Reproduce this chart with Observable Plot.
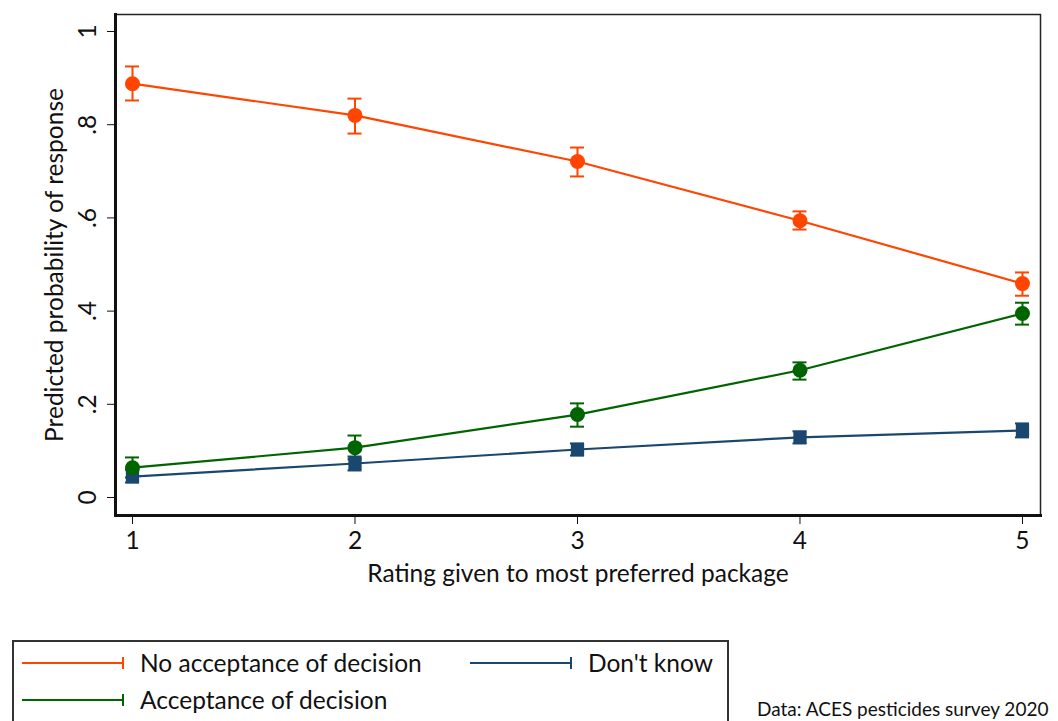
<!DOCTYPE html>
<html>
<head>
<meta charset="utf-8">
<script src="https://cdn.jsdelivr.net/npm/d3@7"></script>
<script src="https://cdn.jsdelivr.net/npm/@observablehq/plot@0.6"></script>
<style>
  html, body { margin: 0; padding: 0; background: #fff; }
  body { width: 1058px; height: 721px; position: relative; overflow: hidden; font-family: Lato, "Open Sans", sans-serif; }
  #legend { position: absolute; left: 12px; top: 640px; width: 717px; height: 90px; border: 2px solid #333; box-sizing: border-box; }
  .item { position: absolute; display: flex; align-items: center; font-size: 24.5px; color: #111; white-space: nowrap; }
  #caption { position: absolute; left: 757px; top: 697px; font-size: 19px; color: #111; white-space: nowrap; }
</style>
</head>
<body>
<div id="chart"></div>
<div id="legend"></div>
<div id="caption">Data: ACES pesticides survey 2020</div>
<script>
// ---- data ----
const ratings = [1, 2, 3, 4, 5];
const seriesNames = ["No acceptance of decision", "Don't know", "Acceptance of decision"];
const seriesColors = ["#ff4500", "#1a476f", "#006400"];
const seriesSymbols = ["circle", "square", "circle"];

const noAcceptP  = [0.888, 0.820, 0.721, 0.594, 0.459];
const noAcceptLo = [0.852, 0.781, 0.689, 0.575, 0.433];
const noAcceptHi = [0.925, 0.856, 0.751, 0.614, 0.483];

const dontKnowP  = [0.045, 0.073, 0.103, 0.129, 0.144];
const dontKnowLo = [0.032, 0.058, 0.090, 0.116, 0.129];
const dontKnowHi = [0.060, 0.088, 0.116, 0.142, 0.159];

const acceptP  = [0.064, 0.107, 0.178, 0.273, 0.395];
const acceptLo = [0.043, 0.082, 0.152, 0.253, 0.371];
const acceptHi = [0.086, 0.133, 0.202, 0.290, 0.418];

const yTicks = [0, 0.2, 0.4, 0.6, 0.8, 1];
const xTicks = [1, 2, 3, 4, 5];

// ---- long table ----
const seriesData = [
  [noAcceptP, noAcceptLo, noAcceptHi],
  [dontKnowP, dontKnowLo, dontKnowHi],
  [acceptP, acceptLo, acceptHi]
];
const rows = [];
seriesNames.forEach((name, s) => {
  ratings.forEach((r, i) => {
    rows.push({series: name, rating: r, p: seriesData[s][0][i], lo: seriesData[s][1][i], hi: seriesData[s][2][i]});
  });
});

const fmt = d => d === 0 ? "0" : d === 1 ? "1" : String(d).replace(/^0\./, ".");

const chart = Plot.plot({
  width: 1058,
  height: 600,
  marginLeft: 115,
  marginRight: 18,
  marginTop: 14,
  marginBottom: 85,
  style: {fontFamily: "Lato, 'Open Sans', sans-serif", fontSize: "24.5px", color: "#111", background: "#fff"},
  x: {domain: [0.9236, 5.081], ticks: xTicks, tickFormat: d => String(d), tickSize: 9, tickPadding: 7,
      label: "Rating given to most preferred package", labelAnchor: "center", labelArrow: "none", labelOffset: 66},
  y: {domain: [-0.0386, 1.0365], ticks: yTicks, tickFormat: fmt, tickSize: 8, tickPadding: 12, tickRotate: -90,
      label: "Predicted probability of response", labelAnchor: "center", labelArrow: "none", labelOffset: 70},
  color: {domain: seriesNames, range: seriesColors},
  symbol: {domain: seriesNames, range: seriesSymbols},
  marks: [
    Plot.frame({stroke: "#222", strokeWidth: 1.5}),
    Plot.frame({anchor: "left", stroke: "#111", strokeWidth: 3}),
    Plot.frame({anchor: "bottom", stroke: "#111", strokeWidth: 3}),
    Plot.ruleX(rows, {x: "rating", y1: "lo", y2: "hi", stroke: "series", strokeWidth: 2}),
    Plot.ruleY(rows, {x1: "rating", x2: "rating", y: "lo", stroke: "series", strokeWidth: 2, insetLeft: -7, insetRight: -7}),
    Plot.ruleY(rows, {x1: "rating", x2: "rating", y: "hi", stroke: "series", strokeWidth: 2, insetLeft: -7, insetRight: -7}),
    Plot.line(rows, {x: "rating", y: "p", z: "series", stroke: "series", strokeWidth: 2.2}),
    Plot.dot(rows, {x: "rating", y: "p", fill: "series", symbol: "series", r: 7.5, stroke: "none"})
  ]
});
document.getElementById("chart").appendChild(chart);

// ---- legend ----
const legendPos = [
  {left: 8, top: 6},   // No acceptance
  {left: 456, top: 6}, // Don't know
  {left: 8, top: 43}   // Acceptance
];
const legend = document.getElementById("legend");
seriesNames.forEach((name, s) => {
  const div = document.createElement("div");
  div.className = "item";
  div.style.left = legendPos[s].left + "px";
  div.style.top = legendPos[s].top + "px";
  const c = seriesColors[s];
  div.innerHTML = `<svg width="104" height="20" style="margin-right:14px"><line x1="0" y1="10" x2="101" y2="10" stroke="${c}" stroke-width="2"/><line x1="101" y1="4" x2="101" y2="16" stroke="${c}" stroke-width="2"/></svg><span>${name}</span>`;
  legend.appendChild(div);
});
</script>
</body>
</html>
